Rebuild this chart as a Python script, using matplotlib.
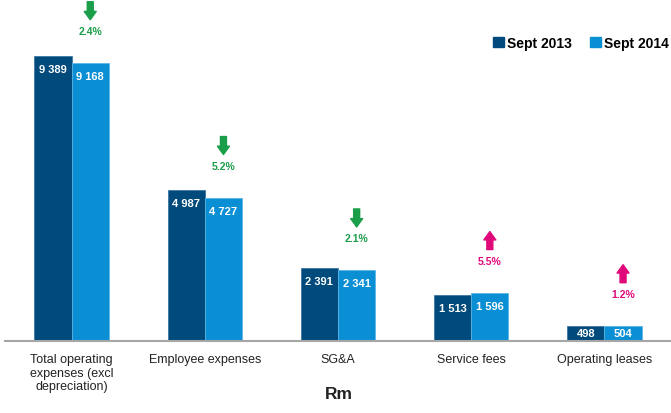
import matplotlib
matplotlib.use("Agg")
import matplotlib.pyplot as plt
from matplotlib.patches import Patch
import numpy as np

plt.rcParams["font.family"] = ["Liberation Sans", "DejaVu Sans"]

DARK = "#004a7c"
LIGHT = "#0a8fd5"
GREEN = "#1a9e4a"
PINK = "#e0097a"
INK = "#222222"

categories = ["Total operating\nexpenses (excl\ndepreciation)", "Employee expenses",
              "SG&A", "Service fees", "Operating leases"]
sept_2013 = [9389, 4987, 2391, 1513, 498]
sept_2014 = [9168, 4727, 2341, 1596, 504]
change_labels = ["2.4%", "5.2%", "2.1%", "5.5%", "1.2%"]
change_dir = ["down", "down", "down", "up", "up"]

fig = plt.figure(figsize=(6.71, 4.14), dpi=100)
ax = fig.add_axes([5 / 671, 72 / 414, 666 / 671, 342 / 414])
YMAX = 11268
ax.set_ylim(0, YMAX)
ax.set_xlim(-0.5, len(categories) - 0.5)
PX = YMAX / 342.0  # data units per pixel

x = np.arange(len(categories))
w = 0.28
ax.bar(x - w / 2, sept_2013, w, color=DARK, edgecolor="#3d77a3", lw=0.6, zorder=2)
ax.bar(x + w / 2, sept_2014, w, color=LIGHT, edgecolor="#5cb6e6", lw=0.6, zorder=2)


def fmt(v):
    return f"{v:,}".replace(",", " ")


for xs, vals in ((x - w / 2, sept_2013), (x + w / 2, sept_2014)):
    for xi, v in zip(xs, vals):
        yy = max(v - 13 * PX, v / 2)
        ax.text(xi, yy, fmt(v), ha="center", va="center", color="white",
                fontsize=8, weight="bold", zorder=3)

# change arrows + % labels above the Sept 2014 bars
for xi, v, lab, d in zip(x + w / 2, sept_2014, change_labels, change_dir):
    col = GREEN if d == "down" else PINK
    ax.text(xi, v + 32 * PX, lab, ha="center", va="center", color=col,
            fontsize=7.5, weight="bold")
    top, bot = v + 61 * PX, v + 43 * PX
    start, end = (top, bot) if d == "down" else (bot, top)
    ax.annotate("", xy=(xi, end), xytext=(xi, start),
                arrowprops=dict(arrowstyle="simple,head_length=0.5,head_width=0.72,tail_width=0.36",
                                color=col, shrinkA=0, shrinkB=0, mutation_scale=12))

ax.set_xticks(x)
ax.set_xticklabels(categories, fontsize=9, color=INK, linespacing=1.15)
ax.tick_params(axis="x", length=0, pad=9)
ax.set_yticks([])
ax.spines[["top", "right", "left"]].set_visible(False)
ax.spines["bottom"].set_color("#a6a6a6")
ax.spines["bottom"].set_linewidth(1.5)

handles = [Patch(color=DARK, label="Sept 2013"), Patch(color=LIGHT, label="Sept 2014")]
fig.legend(handles=handles, ncol=2, loc="center right", bbox_to_anchor=(669 / 671, 1 - 44 / 414),
           frameon=False, handlelength=0.75, handleheight=0.75, handletextpad=0.25,
           columnspacing=1.3, borderaxespad=0, borderpad=0,
           prop={"weight": "bold", "size": 10})

fig.text(339 / 671, 1 - 395 / 414, "Rm", ha="center", va="center", fontsize=12.5,
         weight="bold", color=INK)

fig.savefig("out.png", dpi=100)
